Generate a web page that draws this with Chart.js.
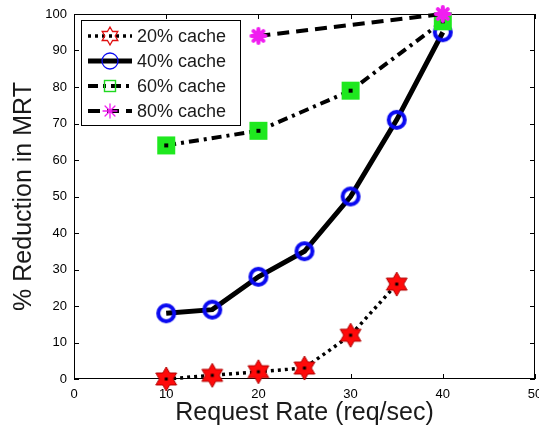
<!DOCTYPE html>
<html>
<head>
<meta charset="utf-8">
<script src="https://cdn.jsdelivr.net/npm/chart.js@4/dist/chart.umd.min.js"></script>
<style>
  html, body { margin: 0; padding: 0; background: #fff; }
  #wrap { width: 539px; height: 429px; }
</style>
</head>
<body>
<div id="wrap"><canvas id="c" width="539" height="429"></canvas></div>
<script>
// Request rates (req/sec) and % reduction in mean response time per cache size
const rates20 = [10, 15, 20, 25, 30, 35];
const cache20 = [0, 1, 2, 3, 12, 26];
const rates40 = [10, 15, 20, 25, 30, 35, 40];
const cache40 = [18, 19, 28, 35, 50, 71, 95];
const rates60 = [10, 20, 30, 40];
const cache60 = [64, 68, 79, 98];
const rates80 = [20, 40];
const cache80 = [94, 100];
const seriesNames = ['20% cache', '40% cache', '60% cache', '80% cache'];
const xTicks = [0, 10, 20, 30, 40, 50];
const yTicks = [0, 10, 20, 30, 40, 50, 60, 70, 80, 90, 100];

const FONT = '"Liberation Sans", Arial, Helvetica, sans-serif';

// ---- marker painters ----
function pathStar6(ctx, cx, cy, R, r) {
  ctx.beginPath();
  for (let i = 0; i < 12; i++) {
    const a = -Math.PI / 2 + i * Math.PI / 6;
    const rad = i % 2 ? r : R;
    const px = cx + rad * Math.cos(a), py = cy + rad * Math.sin(a);
    if (i === 0) ctx.moveTo(px, py); else ctx.lineTo(px, py);
  }
  ctx.closePath();
}
function pathAsterisk(ctx, cx, cy, R) {
  ctx.beginPath();
  for (let i = 0; i < 4; i++) {
    const a = i * Math.PI / 4;
    ctx.moveTo(cx - R * Math.cos(a), cy - R * Math.sin(a));
    ctx.lineTo(cx + R * Math.cos(a), cy + R * Math.sin(a));
  }
}
const painters = {
  star(ctx, cx, cy, big) {
    if (big) {
      pathStar6(ctx, cx, cy, 12, 6.9);
      ctx.fillStyle = '#ff0a0a'; ctx.fill();
      ctx.lineWidth = 1; ctx.strokeStyle = '#b00000'; ctx.stroke();
      ctx.fillStyle = '#000'; ctx.fillRect(cx - 1.5, cy - 1.5, 3, 3);
    } else {
      pathStar6(ctx, cx, cy, 9, 5.2);
      ctx.lineWidth = 1.3; ctx.strokeStyle = '#e01010'; ctx.stroke();
    }
  },
  circle(ctx, cx, cy, big) {
    ctx.beginPath();
    ctx.arc(cx, cy, 8, 0, Math.PI * 2);
    ctx.lineWidth = big ? 4 : 1.3; ctx.strokeStyle = '#0a0af0'; ctx.stroke();
  },
  square(ctx, cx, cy, big) {
    if (big) {
      ctx.fillStyle = '#1fe81f'; ctx.fillRect(cx - 9, cy - 9, 18, 18);
      ctx.fillStyle = '#000'; ctx.fillRect(cx - 2, cy - 2, 4, 4);
    } else {
      ctx.lineWidth = 1.4; ctx.strokeStyle = '#1fd81f';
      ctx.strokeRect(cx - 5.5, cy - 5.5, 11, 11);
    }
  },
  asterisk(ctx, cx, cy, big) {
    pathAsterisk(ctx, cx, cy, 7);
    ctx.lineCap = 'round';
    ctx.lineWidth = big ? 4 : 1.3; ctx.strokeStyle = '#f01ef0'; ctx.stroke();
  }
};
function markerCanvas(kind) {
  const c = document.createElement('canvas');
  c.width = 28; c.height = 28;
  painters[kind](c.getContext('2d'), 14, 14, true);
  return c;
}

const toXY = (xs, ys) => xs.map((x, i) => ({ x: x, y: ys[i] }));

const styles = [
  { kind: 'star',     dash: [3, 4],         width: 3.5 },
  { kind: 'circle',   dash: [],             width: 5 },
  { kind: 'square',   dash: [10, 5, 3, 5],  width: 4 },
  { kind: 'asterisk', dash: [12, 7],        width: 4 }
];
const seriesData = [
  toXY(rates20, cache20),
  toXY(rates40, cache40),
  toXY(rates60, cache60),
  toXY(rates80, cache80)
];

const datasets = seriesData.map((d, i) => ({
  label: seriesNames[i],
  data: d,
  borderColor: '#000',
  borderWidth: styles[i].width,
  borderDash: styles[i].dash,
  borderCapStyle: 'butt',
  pointStyle: markerCanvas(styles[i].kind),
  pointRadius: 10,
  pointHoverRadius: 10,
  tension: 0,
  fill: false,
  clip: false,
  order: 4 - i
}));

// Frame with inward tick marks on all four sides
const framePlugin = {
  id: 'frame',
  beforeDatasetsDraw(chart) {
    const { ctx, chartArea: a, scales: { x, y } } = chart;
    ctx.save();
    ctx.strokeStyle = '#000';
    ctx.lineWidth = 1;
    ctx.strokeRect(a.left + 0.5, a.top + 0.5, a.right - a.left - 1, a.bottom - a.top - 1);
    ctx.beginPath();
    const L = 5;
    xTicks.forEach(v => {
      const px = Math.round(x.getPixelForValue(v)) + 0.5;
      ctx.moveTo(px, a.bottom); ctx.lineTo(px, a.bottom - L);
      ctx.moveTo(px, a.top); ctx.lineTo(px, a.top + L);
    });
    yTicks.forEach(v => {
      const py = Math.round(y.getPixelForValue(v)) + 0.5;
      ctx.moveTo(a.left, py); ctx.lineTo(a.left + L, py);
      ctx.moveTo(a.right, py); ctx.lineTo(a.right - L, py);
    });
    ctx.stroke();
    ctx.restore();
  }
};

// Boxed legend with line samples and markers
const legendPlugin = {
  id: 'boxLegend',
  afterDatasetsDraw(chart) {
    const { ctx } = chart;
    const bx = 81, by = 20, bw = 159, bh = 105;
    ctx.save();
    ctx.fillStyle = '#fff';
    ctx.fillRect(bx, by, bw, bh);
    ctx.strokeStyle = '#000';
    ctx.lineWidth = 1;
    ctx.strokeRect(bx + 0.5, by + 0.5, bw, bh);
    chart.data.datasets.forEach((ds, i) => {
      const cy = 36 + i * 25;
      ctx.beginPath();
      ctx.setLineDash(styles[i].dash);
      ctx.lineWidth = styles[i].width;
      ctx.lineCap = 'butt';
      ctx.strokeStyle = '#000';
      ctx.moveTo(88, cy); ctx.lineTo(132, cy);
      ctx.stroke();
      ctx.setLineDash([]);
      ctx.save();
      ctx.beginPath();
      painters[styles[i].kind](ctx, 110, cy, false);
      ctx.restore();
      ctx.fillStyle = '#1a1a1a';
      ctx.font = '18px ' + FONT;
      ctx.textAlign = 'left';
      ctx.textBaseline = 'middle';
      ctx.fillText(ds.label, 137, cy + 1);
    });
    ctx.restore();
  }
};

new Chart(document.getElementById('c'), {
  type: 'line',
  data: { datasets: datasets },
  options: {
    responsive: false,
    animation: false,
    devicePixelRatio: 1,
    layout: { autoPadding: false, padding: { left: 0, top: 14, right: 4, bottom: 0 } },
    plugins: { legend: { display: false }, tooltip: { enabled: false } },
    scales: {
      x: {
        type: 'linear',
        min: 0, max: 50,
        afterBuildTicks: s => { s.ticks = xTicks.map(v => ({ value: v })); },
        afterFit: s => { s.height = 50; s.paddingLeft = 0; s.paddingRight = 0; },
        grid: { display: false, drawTicks: false },
        border: { display: false },
        ticks: { padding: 8, color: '#000', font: { family: FONT, size: 13 }, maxRotation: 0, autoSkip: false },
        title: { display: true, text: 'Request Rate (req/sec)', color: '#1a1a1a',
                 font: { family: FONT, size: 25 }, padding: { top: 0, bottom: 1 } }
      },
      y: {
        type: 'linear',
        min: 0, max: 100,
        afterBuildTicks: s => { s.ticks = yTicks.map(v => ({ value: v })); },
        afterFit: s => { s.width = 74; s.paddingTop = 0; s.paddingBottom = 0; },
        grid: { display: false, drawTicks: false },
        border: { display: false },
        ticks: { padding: 7, color: '#000', font: { family: FONT, size: 13 }, autoSkip: false },
        title: { display: true, text: '% Reduction in MRT', color: '#1a1a1a',
                 font: { family: FONT, size: 25 }, padding: { top: 9, bottom: 0 } }
      }
    }
  },
  plugins: [framePlugin, legendPlugin]
});
</script>
</body>
</html>
